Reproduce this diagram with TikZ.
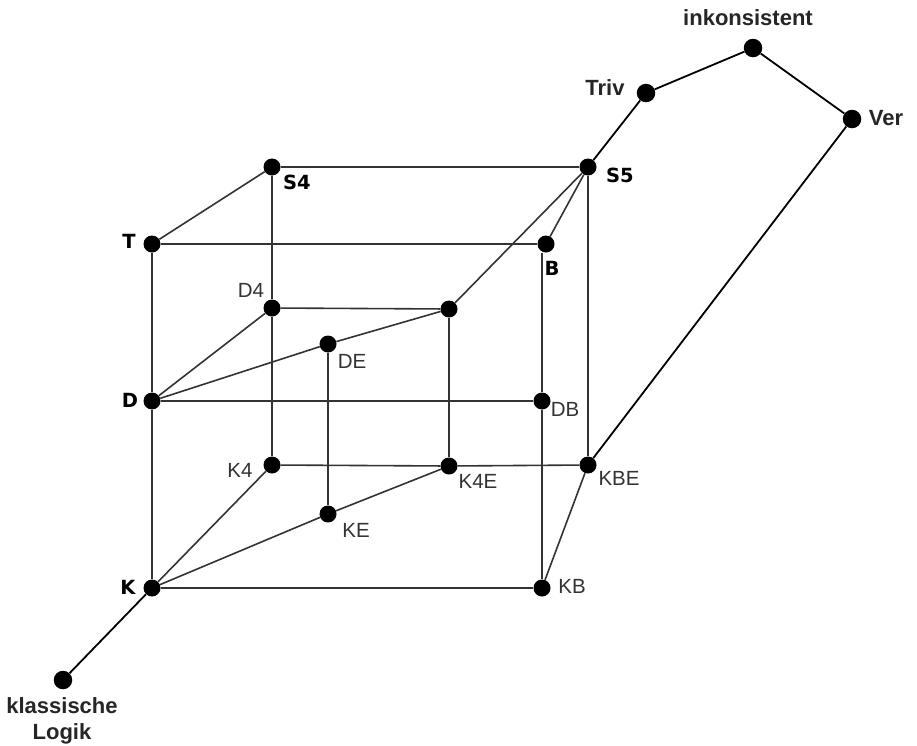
\documentclass[tikz,border=0pt]{standalone}
\usepackage{fontspec}
\setmainfont{Liberation Sans}
\newfontfamily\pixfont{DejaVu Sans}
\begin{document}
\begin{tikzpicture}[x=1pt,y=-1pt,
  dot/.style={circle, fill=black, inner sep=0pt, minimum size=17pt},
  bigdot/.style={dot, minimum size=18.5pt},
  lbl/.style={font=\fontsize{20.5}{22}\selectfont, text=black!80, inner sep=0pt},
  blbl/.style={font=\bfseries\fontsize{22}{24}\selectfont, text=black!85, inner sep=0pt, align=center},
  plbl/.style={font=\pixfont\bfseries\fontsize{19.5}{20}\selectfont, inner sep=0pt},
  cube/.style={draw=black!80, line width=1.6pt},
  outer/.style={draw=black, line width=1.8pt}]
\useasboundingbox (0,0) rectangle (917,745);
\fill[white] (0,0) rectangle (917,745);
% dots
\node[bigdot] (inc) at (753,48) {};
\node[bigdot] (triv) at (646,93) {};
\node[bigdot] (ver) at (852,119) {};
\node[bigdot] (kl) at (63,680) {};
\node[dot] (S4) at (272,167) {};
\node[dot] (S5) at (588,167) {};
\node[dot] (T) at (152,244) {};
\node[dot] (B) at (546,244) {};
\node[dot] (D4) at (272,308) {};
\node[dot] (X) at (449,309) {};
\node[dot] (DE) at (328,344) {};
\node[dot] (D) at (152,401) {};
\node[dot] (DB) at (542,401) {};
\node[dot] (K4) at (272,465) {};
\node[dot] (K4E) at (449,466) {};
\node[dot] (KBE) at (588,465) {};
\node[dot] (KE) at (328,514) {};
\node[dot] (K) at (152,588) {};
\node[dot] (KB) at (542,588) {};
% labels
\node[blbl] (linc) at (748,18) {inkonsistent};
\node[blbl] (ltriv) at (605,88) {Triv};
\node[blbl] (lver) at (886,118) {Ver};
\node[blbl, font=\bfseries\fontsize{22}{26}\selectfont] (lkl) at (62,721) {klassische\\Logik};
\node[plbl] (lS4) at (297,182) {S4};
\node[plbl] (lS5) at (620,175) {S5};
\node[plbl] (lT) at (129,241) {T};
\node[plbl] (lB) at (552,268) {B};
\node[plbl] (lD) at (130,400) {D};
\node[plbl] (lK) at (128,587) {K};
\node[lbl] (lD4) at (251,290) {D4};
\node[lbl] (lDE) at (352,361) {DE};
\node[lbl] (lDB) at (565,409) {DB};
\node[lbl] (lK4) at (240,470) {K4};
\node[lbl] (lK4E) at (478,481) {K4E};
\node[lbl] (lKBE) at (619,478) {KBE};
\node[lbl] (lKE) at (356,530) {KE};
\node[lbl] (lKB) at (572,586) {KB};
% outer connectors
\draw[outer] (K) -- (kl);
\draw[outer] (S5) -- (triv);
\draw[outer] (triv) -- (inc);
\draw[outer] (inc) -- (ver);
\draw[outer] (ver) -- (KBE);
% cube
\draw[cube] (T) -- (D);
\draw[cube] (D) -- (K);
\draw[cube] (K) -- (KB);
\draw[cube] (D) -- (DB);
\draw[cube] (T) -- (B);
\draw[cube] (T) -- (S4);
\draw[cube] (S4) -- (S5);
\draw[cube] (S4) -- (D4);
\draw[cube] (D4) -- (K4);
\draw[cube] (S5) -- (KBE);
\draw[cube] (S5) -- (B);
\draw[cube] (S5) -- (X);
\draw[cube] ([xshift=-4pt]B.south) -- (DB);
\draw[cube] (DB) -- (KB);
\draw[cube] (KBE) -- (KB);
\draw[cube] (D) -- (D4);
\draw[cube] (D) -- (DE);
\draw[cube] (DE) -- (X);
\draw[cube] (D4) -- (X);
\draw[cube] (X) -- (K4E);
\draw[cube] (DE) -- (KE);
\draw[cube] (K4) -- (K4E);
\draw[cube] (K4E) -- (KBE);
\draw[cube] (K) -- (K4);
\draw[cube] (K) -- (KE);
\draw[cube] (KE) -- (K4E);
\end{tikzpicture}
\end{document}
